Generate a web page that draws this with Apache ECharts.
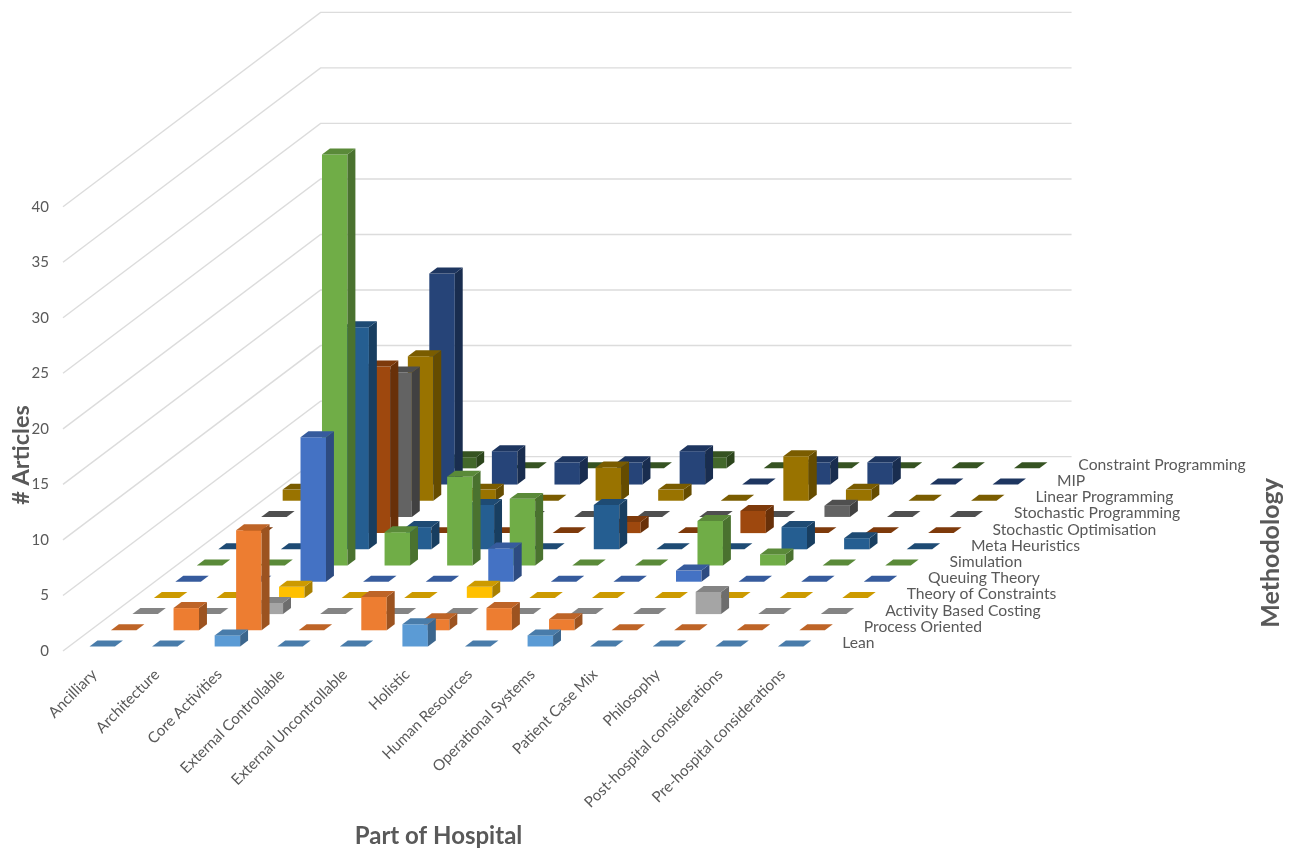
<!DOCTYPE html>
<html><head><meta charset="utf-8">
<style>html,body{margin:0;padding:0;background:#fff}#c{width:1295px;height:850px}</style>
<script src="https://cdn.jsdelivr.net/npm/echarts@6/dist/echarts.min.js"></script>
</head><body><div id="c"></div>
<script>
const categories = ["Ancilliary","Architecture","Core Activities","External Controllable","External Uncontrollable","Holistic","Human Resources","Operational Systems","Patient Case Mix","Philosophy","Post-hospital considerations","Pre-hospital considerations"];
const methodologies = ["Lean","Process Oriented","Activity Based Costing","Theory of Constraints","Queuing Theory","Simulation","Meta Heuristics","Stochastic Optimisation","Stochastic Programming","Linear Programming","MIP","Constraint Programming"];
const colors = ["#5B9BD5","#ED7D31","#A5A5A5","#FFC000","#4472C4","#70AD47","#255E91","#9E480E","#636363","#997300","#264478","#43682B"];
const lean           = [0,0,1,0,0,2,0,1,0,0,0,0];
const processOriented= [0,2,9,0,3,1,2,1,0,0,0,0];
const activityBased  = [0,0,1,0,0,0,0,0,0,2,0,0];
const theoryConstr   = [0,0,1,0,0,1,0,0,0,0,0,0];
const queuingTheory  = [0,0,13,0,0,3,0,0,1,0,0,0];
const simulation     = [0,0,37,3,8,6,0,0,4,1,0,0];
const metaHeuristics = [0,0,20,2,4,0,4,0,0,2,1,0];
const stochOptimis   = [0,0,15,0,0,0,1,0,2,0,0,0];
const stochProgram   = [0,0,13,0,0,0,0,0,0,1,0,0];
const linearProgram  = [1,0,13,1,0,3,1,0,4,1,0,0];
const mip            = [0,0,19,3,2,2,3,0,2,2,0,0];
const constraintProg = [0,0,1,0,0,0,1,0,0,0,0,0];
const rows = [lean,processOriented,activityBased,theoryConstr,queuingTheory,simulation,metaHeuristics,stochOptimis,stochProgram,linearProgram,mip,constraintProg];
const valueTicks = [0,5,10,15,20,25,30,35,40];

// oblique projection: one row of depth moves this far along the two axes
const DEPTH_U = 21.47/62.6, DEPTH_V = 16.2/11.11;
const project = (api,u,w,v) => api.coord([u + w*DEPTH_U, v + w*DEPTH_V]);
const shade = (hex,f) => {
  const n = parseInt(hex.slice(1),16);
  const c = s => Math.round(((n>>s)&255)*f);
  return `rgb(${c(16)},${c(8)},${c(0)})`;
};
const BAR_U0 = 0.328, BAR_U = 0.407, BAR_W0 = 0.278, BAR_W = 0.37;

function barSeries(j){
  const col = colors[j];
  return {
    type:'custom', name:methodologies[j], xAxisIndex:1, yAxisIndex:0, silent:true, clip:false, z:3,
    encode:{x:0,y:1},
    data:categories.map((c,i)=>[i,rows[j][i]]),
    renderItem(params,api){
      const i=api.value(0), v=api.value(1);
      const u0=i+BAR_U0,u1=u0+BAR_U,w0=j+BAR_W0,w1=w0+BAR_W;
      const P=(u,w,h)=>project(api,u,w,h);
      const top={type:'polygon',shape:{points:[P(u0,w0,v),P(u1,w0,v),P(u1,w1,v),P(u0,w1,v)]},style:{fill:shade(col,0.8)}};
      if(!v) return {type:'group',children:[top]};
      return {type:'group',children:[
        {type:'polygon',shape:{points:[P(u0,w0,0),P(u1,w0,0),P(u1,w0,v),P(u0,w0,v)]},style:{fill:col}},
        {type:'polygon',shape:{points:[P(u1,w0,0),P(u1,w1,0),P(u1,w1,v),P(u1,w0,v)]},style:{fill:shade(col,0.66)}},
        top
      ]};
    }
  };
}
const wallSeries = {
  type:'custom', xAxisIndex:1, yAxisIndex:0, silent:true, clip:false, z:1, encode:{x:0,y:1},
  data:valueTicks.map(v=>[0,v]),
  renderItem(params,api){
    const v=api.value(1);
    return {type:'polyline',shape:{points:[project(api,0,0,v),project(api,0,12,v),project(api,12,12,v)]},
      style:{stroke:'#DCDCDC',lineWidth:1.4,fill:null}};
  }
};
const depthLabelSeries = {
  type:'custom', xAxisIndex:1, yAxisIndex:0, silent:true, clip:false, z:4, encode:{x:0,y:1},
  data:methodologies.map((m,j)=>[12.28,0,j]),
  renderItem(params,api){
    const j=api.value(2), p=project(api,api.value(0),j+0.5,0);
    return {type:'text',style:{text:methodologies[j],x:p[0],y:p[1],fill:'#595959',font:'15.7px Lato',textAlign:'left',textVerticalAlign:'middle'}};
  }
};
const chart = echarts.init(document.getElementById('c'),null,{renderer:'canvas'});
chart.setOption({
  animation:false, backgroundColor:'#fff',
  grid:{left:63,top:206.7,width:751,height:444.3,containLabel:false,outerBoundsMode:'none'},
  xAxis:[
    {type:'category',data:categories,boundaryGap:true,axisLine:{show:false},axisTick:{show:false},
     axisLabel:{rotate:45,interval:0,margin:21,color:'#595959',fontFamily:'Lato',fontSize:15.2},
     name:'Part of Hospital',nameLocation:'middle',nameGap:173,
     nameTextStyle:{fontFamily:'Lato',fontWeight:'bold',fontSize:24,color:'#595959'}},
    {type:'value',min:0,max:12,show:false}
  ],
  yAxis:[{type:'value',min:0,max:40,interval:5,axisLine:{show:false},axisTick:{show:false},splitLine:{show:false},
    axisLabel:{margin:14,color:'#595959',fontFamily:'Lato',fontSize:15}}],
  graphic:[
    {type:'text',x:21,y:455,rotation:Math.PI/2,style:{text:'# Articles',fill:'#595959',font:'bold 23.5px Lato',textAlign:'center',textVerticalAlign:'middle'}},
    {type:'text',x:1271,y:553,rotation:Math.PI/2,style:{text:'Methodology',fill:'#595959',font:'bold 25px Lato',textAlign:'center',textVerticalAlign:'middle'}}
  ],
  series:[wallSeries].concat(methodologies.map((m,j)=>barSeries(methodologies.length-1-j)),[depthLabelSeries])
});
</script></body></html>
